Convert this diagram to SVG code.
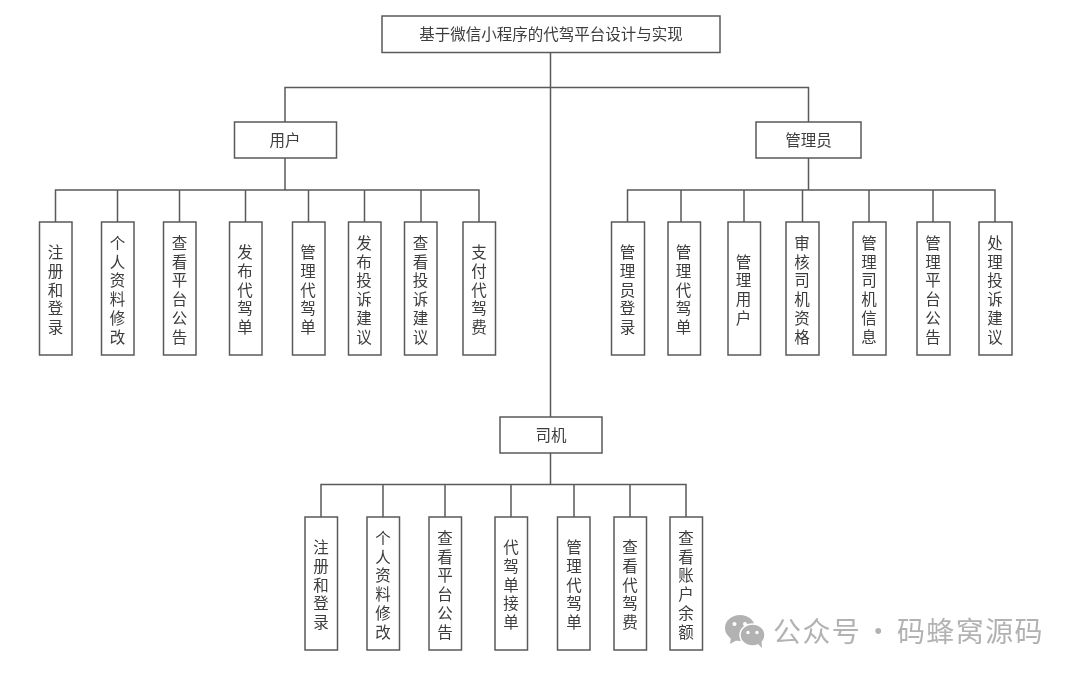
<svg xmlns="http://www.w3.org/2000/svg" width="1080" height="676" viewBox="0 0 1080 676">
<style>
.b{fill:#fff;stroke:#5a5a5a;stroke-width:1.5}
.t{font-family:"Noto Sans CJK SC","Liberation Sans",sans-serif;font-size:15.5px;fill:#3c3c3c;text-anchor:middle}
.v{writing-mode:vertical-rl;text-orientation:upright;letter-spacing:3.2px}
.c{fill:none;stroke:#5a5a5a;stroke-width:1.5}
.m{font-family:"Noto Sans CJK SC","Liberation Sans",sans-serif;font-size:28px;fill:#b2b2b2;letter-spacing:1.4px;word-spacing:-4.5px}
</style>
<defs><filter id="soft" filterUnits="userSpaceOnUse" x="0" y="0" width="1080" height="676"><feGaussianBlur stdDeviation="0.4"/></filter></defs>
<rect width="1080" height="676" fill="#fff"/>
<g filter="url(#soft)">
<g id="connectors">
<path class="c" d="M550.5 52V417M285 122V87.5H808.5V122"/>
<path class="c" d="M285 158V190M55.5 222V190H479V222M117.5 190V222M179.5 190V222M245.5 190V222M308.5 190V222M364.5 190V222M421 190V222"/>
<path class="c" d="M808.5 158V190M627.5 222V190H995V222M681 190V222M744 190V222M802.5 190V222M869 190V222M933 190V222"/>
<path class="c" d="M550.5 453V484.5M321 517V484.5H686V517M383 484.5V517M445 484.5V517M511 484.5V517M574 484.5V517M630 484.5V517"/>
</g>
<g id="root"><rect class="b" x="382" y="16" width="338" height="36.500"/><text class="t" x="551" y="40">基于微信小程序的代驾平台设计与实现</text></g>
<g id="user"><rect class="b" x="234.500" y="122" width="102" height="36"/><text class="t" x="285" y="146">用户</text></g>
<g id="admin"><rect class="b" x="756" y="122" width="105" height="36"/><text class="t" x="808.500" y="146">管理员</text></g>
<g id="driver"><rect class="b" x="500" y="417" width="102" height="36"/><text class="t" x="551" y="441">司机</text></g>

<g id="u1"><rect class="b" x="39.500" y="222" width="32.500" height="133"/><text class="t v" x="55.500" y="291.500">注册和登录</text></g>
<g id="u2"><rect class="b" x="101.500" y="222" width="32.500" height="133"/><text class="t v" x="117.500" y="291.500">个人资料修改</text></g>
<g id="u3"><rect class="b" x="163.500" y="222" width="32.500" height="133"/><text class="t v" x="179.500" y="291.500">查看平台公告</text></g>
<g id="u4"><rect class="b" x="229.500" y="222" width="32.500" height="133"/><text class="t v" x="245" y="291.500">发布代驾单</text></g>
<g id="u5"><rect class="b" x="292.500" y="222" width="32.500" height="133"/><text class="t v" x="308" y="291.500">管理代驾单</text></g>
<g id="u6"><rect class="b" x="348.500" y="222" width="32.500" height="133"/><text class="t v" x="364" y="291.500">发布投诉建议</text></g>
<g id="u7"><rect class="b" x="404.500" y="222" width="32.500" height="133"/><text class="t v" x="420.500" y="291.500">查看投诉建议</text></g>
<g id="u8"><rect class="b" x="463" y="222" width="32.500" height="133"/><text class="t v" x="479" y="291.500">支付代驾费</text></g>

<g id="a1"><rect class="b" x="611.500" y="222" width="33" height="133"/><text class="t v" x="627.500" y="291.500">管理员登录</text></g>
<g id="a2"><rect class="b" x="668" y="222" width="32.500" height="133"/><text class="t v" x="683.500" y="291.500">管理代驾单</text></g>
<g id="a3"><rect class="b" x="728" y="222" width="32.500" height="133"/><text class="t v" x="743.500" y="291.500">管理用户</text></g>
<g id="a4"><rect class="b" x="786" y="222" width="33" height="133"/><text class="t v" x="802" y="291.500">审核司机资格</text></g>
<g id="a5"><rect class="b" x="853" y="222" width="33" height="133"/><text class="t v" x="869" y="291.500">管理司机信息</text></g>
<g id="a6"><rect class="b" x="917" y="222" width="33" height="133"/><text class="t v" x="933" y="291.500">管理平台公告</text></g>
<g id="a7"><rect class="b" x="979" y="222" width="33" height="133"/><text class="t v" x="995" y="291.500">处理投诉建议</text></g>

<g id="d1"><rect class="b" x="305" y="517" width="32.500" height="133"/><text class="t v" x="321" y="586.500">注册和登录</text></g>
<g id="d2"><rect class="b" x="367" y="517" width="32.500" height="133"/><text class="t v" x="383" y="586.500">个人资料修改</text></g>
<g id="d3"><rect class="b" x="429" y="517" width="32.500" height="133"/><text class="t v" x="445" y="586.500">查看平台公告</text></g>
<g id="d4"><rect class="b" x="495" y="517" width="32.500" height="133"/><text class="t v" x="511" y="586.500">代驾单接单</text></g>
<g id="d5"><rect class="b" x="557.500" y="517" width="32.500" height="133"/><text class="t v" x="574" y="586.500">管理代驾单</text></g>
<g id="d6"><rect class="b" x="614" y="517" width="32.500" height="133"/><text class="t v" x="630" y="586.500">查看代驾费</text></g>
<g id="d7"><rect class="b" x="670" y="517" width="32.500" height="133"/><text class="t v" x="686" y="586.500">查看账户余额</text></g>

<g id="watermark">
<ellipse cx="740" cy="628" rx="15" ry="13" fill="#b2b2b2"/>
<path d="M731 637l-1 7 7-4z" fill="#b2b2b2"/>
<ellipse cx="752.500" cy="635" rx="12.500" ry="11" fill="#b2b2b2" stroke="#fff" stroke-width="1.500"/>
<path d="M758 644l4 4-.5-7z" fill="#b2b2b2"/>
<circle cx="734.500" cy="624" r="2" fill="#fff"/><circle cx="745" cy="624" r="2" fill="#fff"/>
<circle cx="748" cy="632.500" r="1.700" fill="#fff"/><circle cx="757" cy="632.500" r="1.700" fill="#fff"/>
<text class="m" x="773" y="642">公众号 · 码蜂窝源码</text>
</g>
</g>
</svg>
